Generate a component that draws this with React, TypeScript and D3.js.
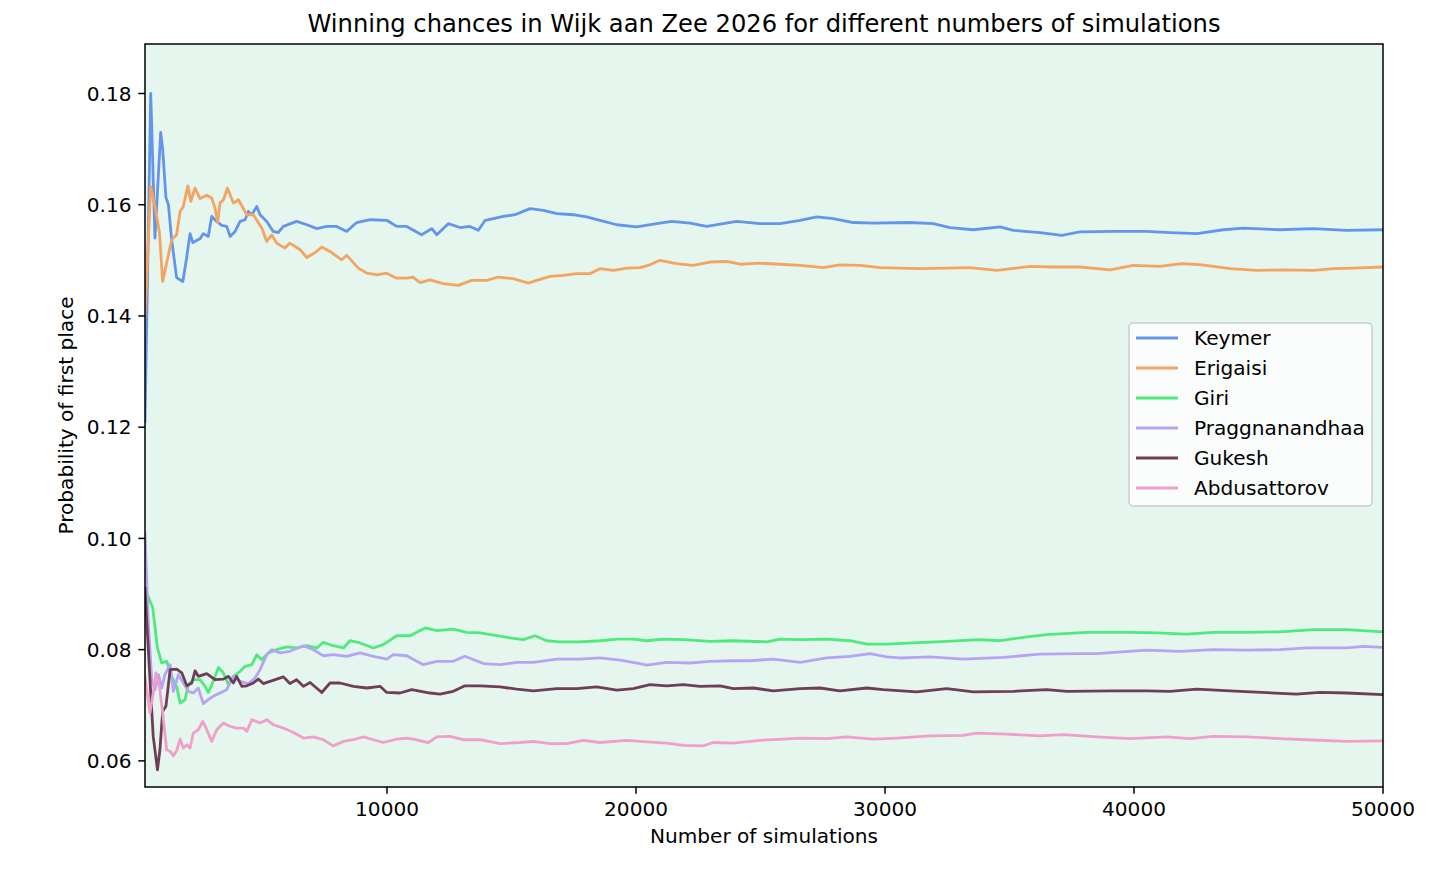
import React from 'react';
import * as d3 from 'd3';

// running estimate of P(first place) per player as [simulations, probability]
const keymer: [number, number][] = [
  [280, 0.121], [510, 0.180], [680, 0.154], [910, 0.173], [990, 0.170], [1120, 0.1613], [1220, 0.160],
  [1350, 0.1537], [1550, 0.1469], [1800, 0.1462], [1960, 0.1507], [2090, 0.1548], [2200, 0.1532],
  [2490, 0.1539], [2620, 0.1548], [2820, 0.1543], [2960, 0.1579], [3160, 0.157], [3360, 0.1563],
  [3560, 0.1561], [3700, 0.1543], [3900, 0.1552], [4100, 0.157], [4300, 0.1573], [4430, 0.1588],
  [4570, 0.1582], [4770, 0.1597], [4900, 0.1582], [5170, 0.157], [5430, 0.1552], [5630, 0.155],
  [5840, 0.1561], [6370, 0.157], [6780, 0.1564], [7180, 0.1557], [7580, 0.1561], [7980, 0.1561],
  [8380, 0.1552], [8780, 0.1568], [9320, 0.1573], [9990, 0.1572], [10390, 0.1561], [10790, 0.1561],
  [11390, 0.1546], [11800, 0.1557], [12000, 0.1546], [12460, 0.1566], [12930, 0.1559], [13330, 0.1561],
  [13670, 0.1554], [13940, 0.1572], [14270, 0.1575], [14670, 0.1579], [15140, 0.1582], [15740, 0.1593],
  [16280, 0.159], [16820, 0.1584], [17480, 0.1582], [18020, 0.1578], [18550, 0.1572], [19230, 0.1564],
  [20030, 0.156], [20830, 0.1566], [21430, 0.157], [22170, 0.1567], [22840, 0.1561], [24040, 0.157],
  [24980, 0.1566], [25780, 0.1566], [26590, 0.1572], [27260, 0.1578], [27920, 0.1575], [28730, 0.1568],
  [29530, 0.1567], [31000, 0.1568], [31940, 0.1566], [32610, 0.1559], [33550, 0.1555], [34620, 0.156],
  [35150, 0.1554], [36220, 0.155], [37100, 0.1545], [37830, 0.1551], [39170, 0.1552], [40510, 0.1552],
  [41450, 0.155], [42520, 0.1548], [43590, 0.1555], [44390, 0.1558], [45860, 0.1555], [47200, 0.1557],
  [48540, 0.1554], [50000, 0.1555],
];

const erigaisi: [number, number][] = [
  [280, 0.140], [510, 0.1633], [680, 0.1597], [860, 0.155], [990, 0.1462], [1150, 0.1495], [1350, 0.1537],
  [1550, 0.1546], [1690, 0.1588], [1820, 0.1597], [2000, 0.1634], [2120, 0.1606], [2290, 0.163],
  [2490, 0.1611], [2760, 0.1617], [2960, 0.1612], [3090, 0.1594], [3200, 0.1568], [3290, 0.1603],
  [3430, 0.1609], [3590, 0.163], [3830, 0.1603], [4030, 0.1609], [4370, 0.1582], [4630, 0.1582],
  [4970, 0.1558], [5170, 0.1534], [5370, 0.1546], [5570, 0.1531], [5900, 0.1522], [6100, 0.1531],
  [6510, 0.1519], [6780, 0.1505], [7110, 0.1514], [7380, 0.1524], [7710, 0.1516], [8180, 0.1501],
  [8380, 0.1509], [8850, 0.1486], [9190, 0.1477], [9590, 0.1474], [9990, 0.1477], [10390, 0.1468],
  [10790, 0.1468], [11040, 0.147], [11330, 0.146], [11730, 0.1465], [12260, 0.1458], [12860, 0.1455],
  [13400, 0.1464], [14000, 0.1464], [14470, 0.147], [15070, 0.1467], [15670, 0.1459], [16010, 0.1464],
  [16550, 0.1471], [17080, 0.1473], [17620, 0.1476], [18150, 0.1476], [18550, 0.1485], [19090, 0.1482],
  [19630, 0.1486], [20160, 0.1487], [20560, 0.1492], [20960, 0.15], [21630, 0.1494], [22300, 0.1491],
  [22970, 0.1497], [23640, 0.1498], [24180, 0.1493], [24980, 0.1495], [25780, 0.1493], [26590, 0.1491],
  [27520, 0.1487], [28190, 0.1492], [29000, 0.1491], [29800, 0.1487], [31400, 0.1485], [32480, 0.1486],
  [33410, 0.1487], [34490, 0.1482], [35820, 0.1489], [36760, 0.1488], [37830, 0.1488], [39040, 0.1483],
  [39970, 0.1491], [41040, 0.1489], [41920, 0.1494], [42720, 0.1492], [43860, 0.1485], [44930, 0.1482],
  [46130, 0.1483], [47200, 0.1482], [48000, 0.1485], [48810, 0.1486], [50000, 0.1488],
];

const giri: [number, number][] = [
  [280, 0.091], [590, 0.0875], [780, 0.0803], [950, 0.0776], [1150, 0.0779], [1350, 0.0752],
  [1550, 0.0734], [1690, 0.0704], [1890, 0.071], [2020, 0.0737], [2220, 0.0746], [2490, 0.0746],
  [2690, 0.0734], [2820, 0.0723], [3020, 0.0743], [3230, 0.0768], [3430, 0.0758], [3630, 0.0737],
  [3830, 0.0752], [4100, 0.0761], [4300, 0.077], [4570, 0.0773], [4770, 0.0791], [4970, 0.0782],
  [5230, 0.0794], [5570, 0.08], [5970, 0.0805], [6370, 0.0803], [6780, 0.0807], [7180, 0.0803],
  [7440, 0.0813], [7840, 0.0807], [8250, 0.0803], [8510, 0.0816], [8920, 0.0812], [9450, 0.0803],
  [9850, 0.0809], [10390, 0.0825], [10920, 0.0825], [11530, 0.0839], [12000, 0.0834], [12660, 0.0837],
  [13200, 0.0831], [13740, 0.083], [14410, 0.0825], [14940, 0.0821], [15470, 0.0818], [15940, 0.0825],
  [16410, 0.0816], [16950, 0.0814], [17750, 0.0814], [18550, 0.0816], [19230, 0.0819], [19890, 0.0819],
  [20430, 0.0816], [21100, 0.0819], [21900, 0.0818], [22970, 0.0815], [23910, 0.0816], [25250, 0.0814],
  [25780, 0.0819], [26590, 0.0818], [27660, 0.0819], [28590, 0.0816], [29270, 0.081], [30070, 0.081],
  [31140, 0.0812], [32480, 0.0815], [33820, 0.0818], [34620, 0.0816], [35550, 0.0822], [36490, 0.0827],
  [38100, 0.0831], [39840, 0.0831], [40910, 0.083], [42120, 0.0828], [43180, 0.0831], [44530, 0.0831],
  [45860, 0.0832], [47200, 0.0836], [48540, 0.0836], [50000, 0.0832],
];

const pragg: [number, number][] = [
  [280, 0.101], [410, 0.085], [550, 0.0746], [680, 0.0728], [820, 0.0755], [950, 0.0731], [1080, 0.0755],
  [1290, 0.0773], [1420, 0.0725], [1620, 0.0755], [1820, 0.074], [2020, 0.0725], [2220, 0.0722],
  [2420, 0.0731], [2620, 0.0703], [2820, 0.071], [3020, 0.0716], [3290, 0.0722], [3560, 0.0728],
  [3830, 0.0752], [4100, 0.0743], [4430, 0.0739], [4700, 0.0749], [4900, 0.0764], [5170, 0.0791],
  [5370, 0.08], [5700, 0.0794], [6100, 0.0797], [6640, 0.0807], [7040, 0.08], [7440, 0.0789],
  [7840, 0.0791], [8380, 0.0788], [8920, 0.0794], [9450, 0.0788], [9990, 0.0783], [10250, 0.0791],
  [10790, 0.0789], [11460, 0.0773], [12000, 0.0779], [12660, 0.0779], [13130, 0.0788], [13870, 0.0775],
  [14540, 0.0773], [15210, 0.0777], [15880, 0.0777], [16820, 0.0783], [17750, 0.0783], [18550, 0.0785],
  [19360, 0.0781], [20160, 0.0775], [20430, 0.0772], [21230, 0.0777], [22170, 0.0776], [22970, 0.0779],
  [23910, 0.078], [24580, 0.078], [25510, 0.0783], [26590, 0.0777], [27660, 0.0785], [28590, 0.0788],
  [29400, 0.0793], [30070, 0.0787], [30600, 0.0785], [31810, 0.0787], [33140, 0.0783], [34750, 0.0786],
  [36220, 0.0792], [37830, 0.0793], [38500, 0.0793], [40510, 0.0799], [41850, 0.0797], [43180, 0.08],
  [44530, 0.0799], [45860, 0.08], [46940, 0.0803], [48540, 0.0803], [49210, 0.0806], [50000, 0.0804],
];

const gukesh: [number, number][] = [
  [280, 0.091], [480, 0.0746], [610, 0.0644], [780, 0.0584], [880, 0.062], [990, 0.0689], [1120, 0.0698],
  [1290, 0.0764], [1550, 0.0765], [1760, 0.0758], [1960, 0.0735], [2160, 0.074], [2290, 0.0762],
  [2420, 0.0752], [2760, 0.0757], [3090, 0.0746], [3430, 0.0747], [3630, 0.0752], [3830, 0.074],
  [3960, 0.0752], [4170, 0.0734], [4370, 0.0735], [4630, 0.074], [4830, 0.0747], [5030, 0.0739],
  [5300, 0.0743], [5570, 0.0747], [5840, 0.0751], [6100, 0.0739], [6370, 0.0746], [6640, 0.0734],
  [6910, 0.0741], [7380, 0.0723], [7710, 0.074], [8110, 0.074], [8650, 0.0734], [9190, 0.0731],
  [9720, 0.0734], [9990, 0.0723], [10520, 0.0722], [10990, 0.0728], [11730, 0.0722], [12130, 0.072],
  [12660, 0.0725], [13130, 0.0735], [13740, 0.0735], [14540, 0.0733], [15210, 0.0729], [15880, 0.0726],
  [16820, 0.073], [17620, 0.073], [18420, 0.0733], [19230, 0.0727], [19890, 0.073], [20560, 0.0737],
  [21230, 0.0735], [21900, 0.0737], [22570, 0.0734], [23370, 0.0735], [23910, 0.073], [24710, 0.0731],
  [25510, 0.0726], [26590, 0.073], [27390, 0.0731], [28190, 0.0726], [29270, 0.0731], [29930, 0.0728],
  [31270, 0.0724], [32480, 0.073], [33550, 0.0724], [35150, 0.0725], [36490, 0.0728], [37300, 0.0725],
  [39170, 0.0726], [40510, 0.0726], [41450, 0.0725], [42520, 0.0729], [43860, 0.0726], [46530, 0.072],
  [47470, 0.0723], [48540, 0.0722], [50000, 0.0719],
];

const abdusattorov: [number, number][] = [
  [280, 0.075], [480, 0.0686], [610, 0.0722], [720, 0.0758], [860, 0.0734], [990, 0.0686], [1150, 0.062],
  [1290, 0.0617], [1420, 0.0609], [1550, 0.0618], [1690, 0.0639], [1820, 0.0623], [1960, 0.0629],
  [2090, 0.0623], [2220, 0.065], [2420, 0.0656], [2600, 0.0671], [2760, 0.0656], [2960, 0.0635],
  [3160, 0.0656], [3430, 0.0668], [3700, 0.0662], [3960, 0.0659], [4230, 0.0659], [4370, 0.0653],
  [4570, 0.0674], [4900, 0.0668], [5170, 0.0674], [5430, 0.0665], [5840, 0.0659], [6240, 0.0651],
  [6640, 0.0641], [7040, 0.0643], [7440, 0.0638], [7840, 0.0627], [8250, 0.0635], [8650, 0.0638],
  [9050, 0.0643], [9450, 0.0638], [9850, 0.0633], [10390, 0.0639], [10790, 0.0641], [11060, 0.0639],
  [11660, 0.0633], [12000, 0.0643], [12530, 0.0644], [13060, 0.0638], [13740, 0.0638], [14540, 0.0631],
  [15340, 0.0633], [15880, 0.0635], [16550, 0.0631], [17220, 0.0631], [17880, 0.0637], [18550, 0.0633],
  [19630, 0.0637], [20160, 0.0635], [21230, 0.0632], [21900, 0.0628], [22700, 0.0627], [23100, 0.0633],
  [23910, 0.0632], [24980, 0.0637], [25920, 0.0639], [26590, 0.0641], [27660, 0.064], [28460, 0.0643],
  [29530, 0.0639], [30470, 0.0641], [31810, 0.0645], [33140, 0.0646], [33680, 0.065], [34890, 0.0648],
  [36220, 0.0645], [37160, 0.0647], [38500, 0.0643], [39840, 0.064], [41310, 0.0643], [42250, 0.064],
  [43180, 0.0644], [44530, 0.0643], [45860, 0.064], [46940, 0.0638], [48540, 0.0635], [50000, 0.0636],
];

const players = ['Keymer', 'Erigaisi', 'Giri', 'Praggnanandhaa', 'Gukesh', 'Abdusattorov'];
const seriesData = [keymer, erigaisi, giri, pragg, gukesh, abdusattorov];
const colors = ['#6495ED', '#F4A460', '#4CEB7B', '#B5A4F6', '#6F3D56', '#F09FC9'];

const xTicks = [10000, 20000, 30000, 40000, 50000];
const yTicks = [0.06, 0.08, 0.1, 0.12, 0.14, 0.16, 0.18];

const W = 1456;
const H = 874;
const margin = { left: 145, right: 73, top: 44, bottom: 87 };
const FONT = 'DejaVu Sans, sans-serif';
const FS = 20.1;

const App = () => {
  const x = d3.scaleLinear().domain([280, 50000]).range([margin.left, W - margin.right]);
  const y = d3.scaleLinear().domain([0.0553, 0.1889]).range([H - margin.bottom, margin.top]);
  const line = d3.line<[number, number]>().x(d => x(d[0])).y(d => y(d[1]));

  const left = margin.left;
  const right = W - margin.right;
  const top = margin.top;
  const bottom = H - margin.bottom;

  const legX = 1129;
  const legY = 323;
  const rowH = 30;

  return (
    <svg width={W} height={H} style={{ position: 'absolute', left: 0, top: 0, background: '#fff' }} fontFamily={FONT}>
      <defs>
        <clipPath id="plot">
          <rect x={left} y={top} width={right - left} height={bottom - top} />
        </clipPath>
      </defs>
      <rect x={left} y={top} width={right - left} height={bottom - top} fill="#E5F6EF" />

      <g clipPath="url(#plot)">
        {seriesData.map((s, i) => (
          <path key={players[i]} d={line(s) || ''} fill="none" stroke={colors[i]} strokeWidth={2.8} strokeLinejoin="round" strokeLinecap="square" />
        ))}
      </g>

      {/* spines */}
      <rect x={left} y={top} width={right - left} height={bottom - top} fill="none" stroke="#000" strokeWidth={1.5} />

      {/* x axis */}
      {xTicks.map(t => (
        <g key={t} transform={`translate(${x(t)},${bottom})`}>
          <line y2={6.7} stroke="#000" strokeWidth={1.5} />
          <text y={13.5} dy="0.76em" textAnchor="middle" fontSize={FS}>{t}</text>
        </g>
      ))}
      <text x={(left + right) / 2} y={843} textAnchor="middle" fontSize={FS}>Number of simulations</text>

      {/* y axis */}
      {yTicks.map(t => (
        <g key={t} transform={`translate(${left},${y(t)})`}>
          <line x2={-6.7} stroke="#000" strokeWidth={1.5} />
          <text x={-13.5} dy="0.36em" textAnchor="end" fontSize={FS}>{t.toFixed(2)}</text>
        </g>
      ))}
      <text transform={`translate(73,${(top + bottom) / 2}) rotate(-90)`} textAnchor="middle" fontSize={FS}>
        Probability of first place
      </text>

      <text x={(left + right) / 2} y={32} textAnchor="middle" fontSize={24.2}>
        Winning chances in Wijk aan Zee 2026 for different numbers of simulations
      </text>

      {/* legend */}
      <rect x={legX} y={legY} width={243} height={183} rx={4} fill="#fff" fillOpacity={0.8} stroke="#ccc" strokeWidth={1.5} />
      {players.map((p, i) => (
        <g key={p} transform={`translate(${legX},${legY + 15 + i * rowH})`}>
          <line x1={7} x2={49} stroke={colors[i]} strokeWidth={2.8} />
          <text x={65} dy="0.36em" fontSize={FS}>{p}</text>
        </g>
      ))}
    </svg>
  );
};

export default App;
